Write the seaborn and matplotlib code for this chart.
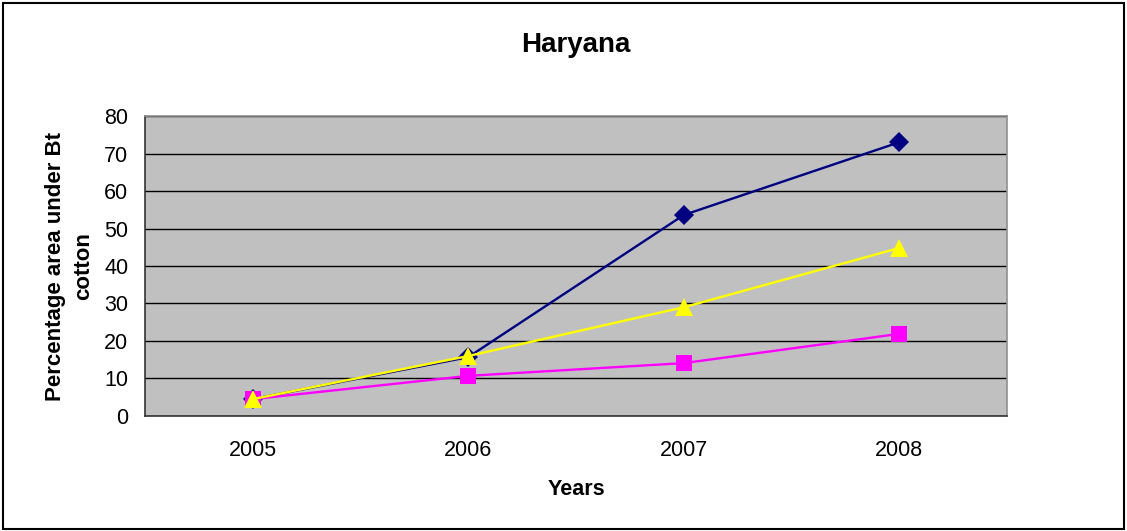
import pandas as pd
import seaborn as sns
import matplotlib.pyplot as plt
from matplotlib.patches import Rectangle

# values
years = ['2005', '2006', '2007', '2008']
series_a = [4.5, 15.7, 53.6, 73.0]   # navy diamonds
series_b = [4.5, 10.7, 14.1, 21.9]   # magenta squares
series_c = [4.5, 16.0, 29.0, 44.8]   # yellow triangles
series_names = ['A', 'B', 'C']
colors = {'A': '#000080', 'B': '#FF00FF', 'C': '#FFFF00'}
markers = {'A': 'D', 'B': 's', 'C': '^'}
marker_sizes = {'A': 10, 'B': 11, 'C': 13}

df = pd.DataFrame({
    'year': years * 3,
    'value': series_a + series_b + series_c,
    'series': [s for s in series_names for _ in years],
})
df['pos'] = df['year'].map({y: i for i, y in enumerate(years)})

sns.set_style('white')
plt.rcParams['font.family'] = ['Liberation Sans', 'DejaVu Sans']
plt.rcParams['text.color'] = 'black'
plt.rcParams['axes.labelcolor'] = 'black'
plt.rcParams['xtick.color'] = 'black'
plt.rcParams['ytick.color'] = 'black'

fig = plt.figure(figsize=(11.27, 5.31), dpi=100)
ax = fig.add_axes([0.1287, 0.2166, 0.7648, 0.5649])
ax.set_facecolor('#C0C0C0')

sns.lineplot(data=df, x='pos', y='value', hue='series', style='series',
             palette=colors, markers=markers, dashes=False, legend=False,
             linewidth=1.7, markersize=10, markeredgewidth=0, ax=ax, zorder=3)
for line, name in zip(ax.lines, series_names):
    line.set_markersize(marker_sizes[name])

ax.set_xlim(-0.5, 3.5)
ax.set_ylim(0, 80)
ax.set_yticks(range(0, 81, 10))
ax.yaxis.grid(True, color='black', linewidth=1)
ax.set_axisbelow(True)

# category labels centred, ticks at the category boundaries
ax.set_xticks([-0.5, 0.5, 1.5, 2.5, 3.5])
ax.set_xticklabels([])
ax.set_xticks(range(len(years)), minor=True)
ax.set_xticklabels(years, minor=True, fontsize=15.5)
ax.tick_params(axis='x', which='minor', length=0, pad=17)
ax.tick_params(axis='x', which='major', length=6, width=1, color='#333333', direction='out')
ax.tick_params(axis='y', length=6, width=1, color='#333333', direction='out', labelsize=15.5, pad=6)

for side in ['left', 'bottom']:
    ax.spines[side].set_color('#333333')
    ax.spines[side].set_linewidth(1.2)
for side in ['top', 'right']:
    ax.spines[side].set_color('#909090')
    ax.spines[side].set_linewidth(1.2)

ax.set_xlabel('Years', fontsize=15.5, fontweight='bold', labelpad=13)
ax.set_ylabel('Percentage area under Bt\ncotton', fontsize=16, fontweight='bold',
              labelpad=7, linespacing=1.45)
ax.set_title('Haryana', fontsize=20, fontweight='bold', pad=46)

fig.patches.append(Rectangle((0.003, 0.003), 0.994, 0.992, transform=fig.transFigure,
                             fill=False, edgecolor='black', linewidth=1.5))

fig.savefig('out.png', dpi=100)
